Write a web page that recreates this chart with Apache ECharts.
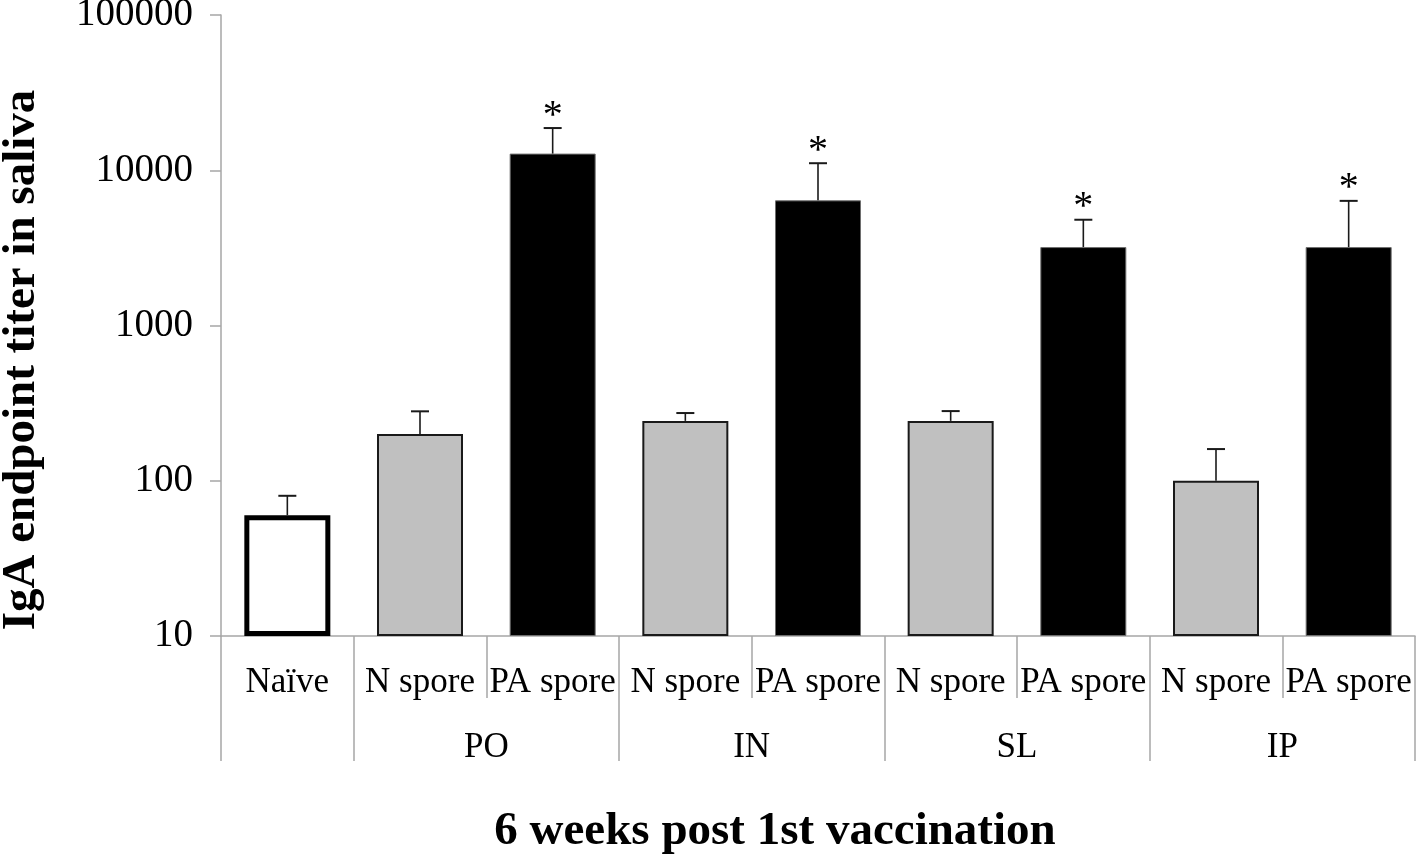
<!DOCTYPE html>
<html>
<head>
<meta charset="utf-8">
<script src="https://cdn.jsdelivr.net/npm/echarts@6/dist/echarts.min.js"></script>
<style>html,body{margin:0;padding:0;background:#fff}#c{width:1418px;height:859px}</style>
</head>
<body>
<div id="c"></div>
<script>
// ---- data ----
const categories = ['Naïve', 'N spore', 'PA spore', 'N spore', 'PA spore', 'N spore', 'PA spore', 'N spore', 'PA spore'];
const groupNames = ['', 'PO', 'IN', 'SL', 'IP'];
const groupSpans = [1, 2, 2, 2, 2];
const meanTiter = [60, 200, 12800, 243, 6400, 243, 3200, 100, 3200];
const errorTop = [80, 280, 18700, 273, 11100, 281, 4800, 160, 6350];
const significant = [false, false, true, false, true, false, true, false, true];
const barKind = ['naive', 'N', 'PA', 'N', 'PA', 'N', 'PA', 'N', 'PA'];

// ---- styling helpers ----
const FONT = '"Liberation Serif", "Times New Roman", serif';
const AXIS_GREY = '#a6a6a6';
const kindStyle = {
  naive: { color: '#ffffff', borderColor: '#000000', borderWidth: 5 },
  N: { color: '#c0c0c0', borderColor: '#1a1a1a', borderWidth: 2 },
  PA: { color: '#000000', borderColor: '#6e6e6e', borderWidth: 1 }
};

// group-level axis: half-category slots, labels at boundaries (boundaryGap false)
const halfSlots = [];
for (let i = 0; i <= categories.length * 2; i++) halfSlots.push('');
const groupBoundaries = [0];
let pos = 0;
groupSpans.forEach((span, gi) => {
  const centre = pos * 2 + span;
  halfSlots[centre] = groupNames[gi];
  pos += span;
  groupBoundaries.push(pos * 2);
});

const barData = meanTiter.map((v, i) => ({ value: v, itemStyle: kindStyle[barKind[i]] }));
const errData = meanTiter.map((v, i) => [i, v, errorTop[i], significant[i] ? 1 : 0]);

const chart = echarts.init(document.getElementById('c'));
chart.setOption({
  animation: false,
  backgroundColor: '#ffffff',
  grid: { left: 221, right: 3, top: 15, bottom: 223, containLabel: false, outerBoundsMode: 'none' },
  xAxis: [
    {
      type: 'category',
      data: categories,
      boundaryGap: true,
      axisLine: { show: true, lineStyle: { color: AXIS_GREY, width: 1.5 } },
      axisTick: { show: true, alignWithLabel: false, length: 62, lineStyle: { color: AXIS_GREY, width: 1.5 } },
      axisLabel: { show: true, interval: 0, margin: 29, fontFamily: FONT, fontSize: 35, color: '#000' }
    },
    {
      type: 'category',
      position: 'bottom',
      data: halfSlots,
      boundaryGap: false,
      axisLine: { show: false },
      axisTick: {
        show: true, length: 125,
        interval: (idx) => groupBoundaries.indexOf(idx) >= 0,
        lineStyle: { color: AXIS_GREY, width: 1.5 }
      },
      axisLabel: {
        show: true, margin: 94, fontFamily: FONT, fontSize: 35, color: '#000',
        interval: (idx, val) => val !== ''
      }
    }
  ],
  yAxis: {
    type: 'log',
    logBase: 10,
    min: 10,
    max: 100000,
    startValue: 10,
    axisLine: { show: true, lineStyle: { color: AXIS_GREY, width: 1.5 } },
    axisTick: { show: true, inside: false, length: 11, lineStyle: { color: AXIS_GREY, width: 1.5 } },
    splitLine: { show: false },
    minorTick: { show: false },
    axisLabel: { margin: 28, fontFamily: FONT, fontSize: 39, color: '#000', formatter: (v) => String(Math.round(v)) }
  },
  series: [
    {
      type: 'bar',
      data: barData,
      barWidth: 86,
      xAxisIndex: 0,
      yAxisIndex: 0,
      z: 2
    },
    {
      type: 'custom',
      xAxisIndex: 0,
      yAxisIndex: 0,
      data: errData,
      z: 3,
      renderItem: function (params, api) {
        const x = api.value(0);
        const base = api.coord([x, api.value(1)]);
        const top = api.coord([x, api.value(2)]);
        const capHalf = 9;
        const children = [
          { type: 'line', shape: { x1: base[0], y1: base[1], x2: top[0], y2: top[1] }, style: { stroke: '#1a1a1a', lineWidth: 1.6 } },
          { type: 'line', shape: { x1: top[0] - capHalf, y1: top[1], x2: top[0] + capHalf, y2: top[1] }, style: { stroke: '#1a1a1a', lineWidth: 2 } }
        ];
        if (api.value(3) === 1) {
          children.push({
            type: 'text',
            style: { x: top[0], y: top[1] - 12, text: '*', fill: '#000', font: '40px ' + FONT, textAlign: 'center', textVerticalAlign: 'middle' }
          });
        }
        return { type: 'group', children: children };
      }
    }
  ],
  graphic: [
    {
      type: 'text',
      x: 22,
      y: 360,
      rotation: Math.PI / 2,
      style: { text: 'IgA endpoint titer in saliva', font: 'bold 47px ' + FONT, fill: '#000', textAlign: 'center', textVerticalAlign: 'middle' }
    },
    {
      type: 'text',
      x: 775,
      y: 832,
      style: { text: '6 weeks post 1st vaccination', font: 'bold 47px ' + FONT, fill: '#000', textAlign: 'center', textVerticalAlign: 'middle' }
    }
  ]
});
</script>
</body>
</html>
